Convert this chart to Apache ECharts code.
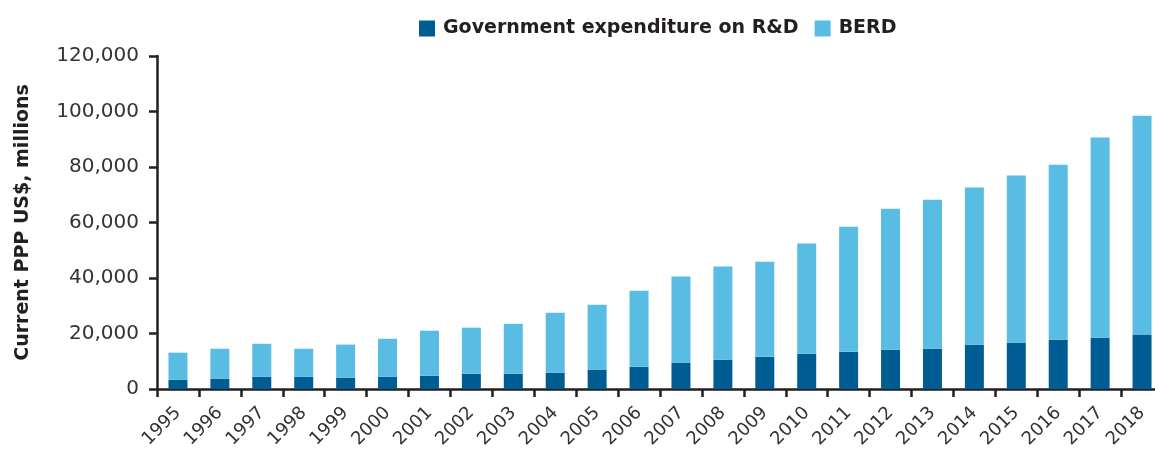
<!DOCTYPE html>
<html>
<head>
<meta charset="UTF-8">
<title>R&amp;D expenditure</title>
<script src="https://cdn.jsdelivr.net/npm/echarts@6/dist/echarts.min.js"></script>
<style>
  html, body { margin: 0; padding: 0; background: #fff; overflow: hidden; }
  /* the last category runs past the right edge of the picture, so the canvas is a bit wider than the window */
  #chart { width: 1163px; height: 455px; }
</style>
</head>
<body>
<div id="chart"></div>
<script>
// data (millions, current PPP US$)
var years = ['1995', '1996', '1997', '1998', '1999', '2000', '2001', '2002', '2003', '2004', '2005', '2006',
  '2007', '2008', '2009', '2010', '2011', '2012', '2013', '2014', '2015', '2016', '2017', '2018'];
var govRD = [3350, 3700, 4400, 4400, 4100, 4400, 4800, 5500, 5500, 5900, 7000, 8000,
  9500, 10600, 11600, 12700, 13400, 14200, 14500, 16000, 16700, 17800, 18500, 19600];
var berd = [9750, 10800, 11900, 10100, 11900, 13700, 16200, 16600, 18000, 21600, 23400, 27400,
  31000, 33500, 34300, 39700, 45100, 50800, 53700, 56600, 60200, 63000, 72100, 78900];
var yTicks = { min: 0, max: 120000, step: 20000 };

var axisColor = '#231f20';
var chart = echarts.init(document.getElementById('chart'));

chart.setOption({
  animation: false,
  legend: {
    top: 14,
    left: 414,
    itemWidth: 16,
    itemHeight: 16,
    itemGap: 16,
    icon: 'rect',
    textStyle: { fontFamily: 'DejaVu Sans', fontWeight: 'bold', fontSize: 19, color: '#231f20', padding: [0, 0, 0, 3] },
    data: ['Government expenditure on R&D', 'BERD']
  },
  grid: { left: 157, top: 56, right: 0, bottom: 66 },
  xAxis: {
    type: 'category',
    data: years,
    axisLine: { lineStyle: { color: axisColor, width: 2.5 } },
    axisTick: { show: true, length: 8, lineStyle: { color: axisColor, width: 2.5 } },
    axisLabel: {
      rotate: 45, margin: 21, interval: 0,
      fontFamily: 'DejaVu Sans', fontSize: 18, color: '#333'
    }
  },
  yAxis: {
    type: 'value',
    min: yTicks.min, max: yTicks.max, interval: yTicks.step,
    name: 'Current PPP US$, millions',
    nameLocation: 'middle',
    nameGap: 124,
    nameTextStyle: { fontFamily: 'DejaVu Sans', fontWeight: 'bold', fontSize: 19, color: '#231f20' },
    splitLine: { show: false },
    axisLine: { show: true, lineStyle: { color: axisColor, width: 2.5 } },
    axisTick: { show: true, length: 8, lineStyle: { color: axisColor, width: 2.5 } },
    axisLabel: {
      margin: 18,
      fontFamily: 'DejaVu Sans', fontSize: 20, color: '#333',
      formatter: function (v) { return v.toLocaleString('en-US'); }
    }
  },
  series: [
    {
      name: 'Government expenditure on R&D',
      type: 'bar', stack: 'total', barWidth: 19,
      itemStyle: { color: '#005d94' },
      data: govRD
    },
    {
      name: 'BERD',
      type: 'bar', stack: 'total', barWidth: 19,
      itemStyle: { color: '#58bce3' },
      data: berd
    }
  ]
});
</script>
</body>
</html>
